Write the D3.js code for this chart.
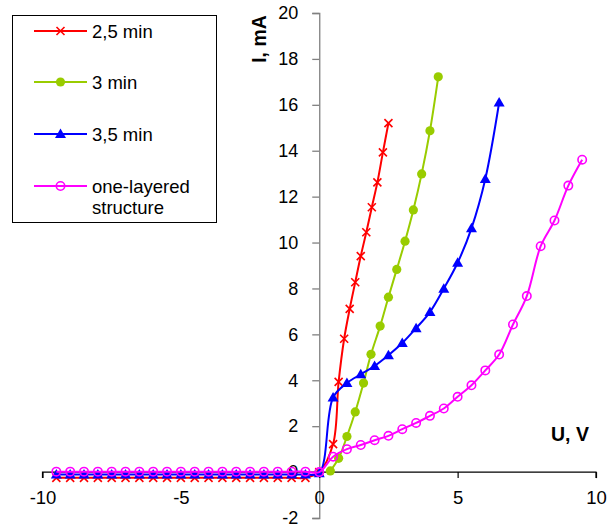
<!DOCTYPE html>
<html lang="en">
<head>
  <meta charset="utf-8" />
  <script src="https://d3js.org/d3.v7.min.js"></script>
  <style>
    body { margin: 0; background: #fff; }
    svg text { font-family: "Liberation Sans", Arial, sans-serif; fill: #000; }
  </style>
</head>
<body>
<svg width="614" height="527"></svg>
<script>

// series names (legend order)
var seriesNames = ["2,5 min", "3 min", "3,5 min", "one-layered", "structure"];

// reverse branch: U from -9.5 to -0.5 every 0.5 V
var uNeg = [-9.5, -9, -8.5, -8, -7.5, -7, -6.5, -6, -5.5, -5, -4.5, -4, -3.5, -3, -2.5, -2, -1.5, -1, -0.5];

// 2,5 min
var redU = [0, 0.5, 0.7, 0.9, 1.1, 1.3, 1.5, 1.7, 1.9, 2.1, 2.3, 2.5];
var redI = [0, 1.22, 3.93, 5.81, 7.11, 8.27, 9.41, 10.45, 11.54, 12.62, 13.93, 15.2];
var redNegI = -0.25;

// 3 min
var greenU = [0.4, 0.7, 1.0, 1.3, 1.6, 1.87, 2.2, 2.5, 2.8, 3.1, 3.4, 3.7, 4.0, 4.3];
var greenI = [0.05, 0.6, 1.55, 2.62, 3.88, 5.13, 6.36, 7.62, 8.83, 10.06, 11.42, 12.99, 14.87, 17.22];

// 3,5 min
var blueU = [0, 0.5, 1, 1.5, 2, 2.5, 3, 3.5, 4, 4.5, 5, 5.5, 6, 6.5];
var blueI = [-0.05, 3.25, 3.88, 4.26, 4.62, 5.09, 5.62, 6.27, 6.97, 7.99, 9.12, 10.62, 12.77, 16.1];
var blueNegI = -0.1;

// one-layered structure
var magU = [0, 0.5, 1, 1.5, 2, 2.5, 3, 3.5, 4, 4.5, 5, 5.5, 6, 6.5, 7, 7.5, 8, 8.5, 9, 9.5];
var magI = [0, 0.67, 1.0, 1.18, 1.39, 1.58, 1.87, 2.14, 2.45, 2.77, 3.28, 3.78, 4.43, 5.12, 6.43, 7.67, 9.84, 10.96, 12.48, 13.61];
var magNegI = 0.02;

var xTicks = [-10, -5, 0, 5, 10];
var yTicks = [-2, 0, 2, 4, 6, 8, 10, 12, 14, 16, 18, 20];

var svg = d3.select("svg");

var x = d3.scaleLinear().domain([-10, 10]).range([42.5, 596]);
var y = d3.scaleLinear().domain([-2, 20]).range([518, 13]);

function pts(us, is, negI) {
  var out = [];
  if (negI !== undefined) uNeg.forEach(function(u) { out.push([u, negI]); });
  us.forEach(function(u, i) { out.push([u, is[i]]); });
  return out;
}

var series = [
  { color: "#ff0000", marker: "x",  data: pts(redU, redI, redNegI) },
  { color: "#99cc00", marker: "dot", data: pts(greenU, greenI) },
  { color: "#0000ff", marker: "tri", data: pts(blueU, blueI, blueNegI) },
  { color: "#ff00ff", marker: "ring", data: pts(magU, magI, magNegI) }
];

// plain hyphen for negatives, like the original
var plain = function(d) { return String(d); };

// axes
var yAxis = svg.append("g")
  .attr("transform", "translate(" + x(0) + ",0)")
  .call(d3.axisLeft(y).tickValues(yTicks).tickSize(7).tickPadding(14).tickFormat(plain));
yAxis.selectAll("path, line").attr("stroke", "#808080").attr("stroke-width", 1.3);
yAxis.selectAll("text").attr("font-size", 18).attr("font-family", null);

var xAxis = svg.append("g")
  .attr("transform", "translate(0," + y(0) + ")")
  .call(d3.axisBottom(x).tickValues(xTicks).tickSize(6).tickPadding(13).tickFormat(plain));
xAxis.select(".domain").attr("d", "M" + x(-10) + ",6V0H" + x(10) + "V6");
xAxis.selectAll("path, line").attr("stroke", "#000").attr("stroke-width", 1.2);
xAxis.selectAll("text").attr("font-size", 18.5).attr("font-family", null);

svg.append("text")
  .attr("transform", "translate(266,39) rotate(-90)")
  .attr("text-anchor", "middle")
  .attr("font-size", 19.5)
  .attr("font-weight", "bold")
  .text("I, mA");

svg.append("text")
  .attr("x", 551).attr("y", 441)
  .attr("font-size", 19.5)
  .attr("font-weight", "bold")
  .text("U, V");

// markers
function drawMarker(g, type, color, cx, cy) {
  if (type === "x") {
    g.append("path")
      .attr("d", "M" + (cx - 4) + "," + (cy - 4) + "L" + (cx + 4) + "," + (cy + 4) +
                 "M" + (cx - 4) + "," + (cy + 4) + "L" + (cx + 4) + "," + (cy - 4))
      .attr("stroke", color).attr("stroke-width", 1.6).attr("fill", "none");
  } else if (type === "dot") {
    g.append("circle").attr("cx", cx).attr("cy", cy).attr("r", 4.6).attr("fill", color);
  } else if (type === "tri") {
    g.append("path")
      .attr("d", "M" + cx + "," + (cy - 5.5) + "L" + (cx + 5.5) + "," + (cy + 4) + "L" + (cx - 5.5) + "," + (cy + 4) + "Z")
      .attr("fill", color);
  } else {
    g.append("circle").attr("cx", cx).attr("cy", cy).attr("r", 4.2)
      .attr("fill", "none").attr("stroke", color).attr("stroke-width", 1.6);
  }
}

var line = d3.line()
  .x(function(d) { return x(d[0]); })
  .y(function(d) { return y(d[1]); })
  .curve(d3.curveCatmullRom.alpha(0.5));

series.forEach(function(s) {
  var g = svg.append("g");
  g.append("path")
    .datum(s.data)
    .attr("d", line)
    .attr("fill", "none")
    .attr("stroke", s.color)
    .attr("stroke-width", 2);
  s.data.forEach(function(d) { drawMarker(g, s.marker, s.color, x(d[0]), y(d[1])); });
});

// legend
var legend = svg.append("g");
legend.append("rect")
  .attr("x", 12.5).attr("y", 15.5).attr("width", 204).attr("height", 207)
  .attr("fill", "#fff").attr("stroke", "#000").attr("stroke-width", 1);

var legendY = [31, 82, 134, 186];
series.forEach(function(s, i) {
  legend.append("line")
    .attr("x1", 34).attr("x2", 87).attr("y1", legendY[i]).attr("y2", legendY[i])
    .attr("stroke", s.color).attr("stroke-width", 2);
  drawMarker(legend, s.marker, s.color, 60.5, legendY[i]);
  legend.append("text")
    .attr("x", 92).attr("y", legendY[i] + 6.5)
    .attr("font-size", 18.5)
    .text(seriesNames[i]);
});
legend.append("text")
  .attr("x", 92).attr("y", 213.5)
  .attr("font-size", 18.5)
  .text(seriesNames[4]);

</script>
</body>
</html>
